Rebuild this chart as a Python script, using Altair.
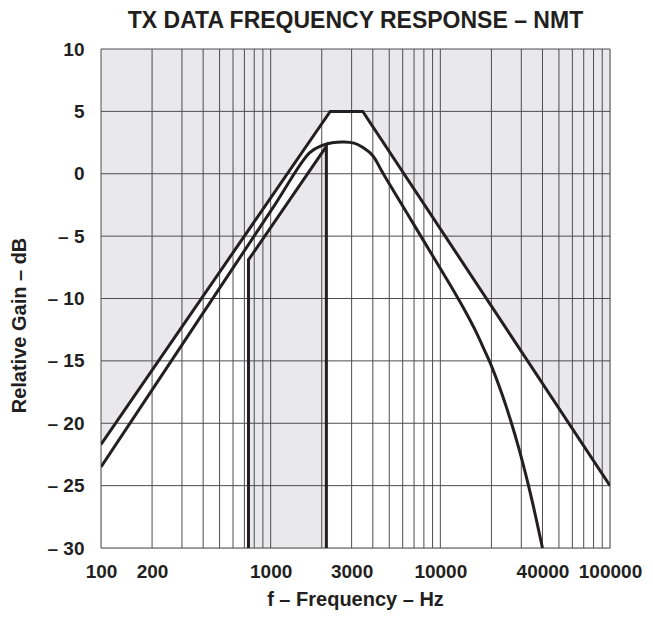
import altair as alt
import pandas as pd

# ---- data ----
upper_f = [100, 2244, 3490, 100000]
upper_db = [-21.7, 5.0, 5.0, -25.0]

lower_f = [740, 740, 2130, 2130]
lower_db = [-30.0, -6.9, 2.2, -30.0]

resp_f = [100, 1000, 1700, 2000, 2300, 2700, 3100, 3500, 4000, 4500,
          5000, 7000, 10000, 12000, 14000, 16000, 18000, 20000, 23000,
          26000, 29000, 32000, 35000, 38000, 40000]
resp_db = [-23.5, -3.0, 1.7, 2.25, 2.48, 2.55, 2.45, 2.1, 1.45, 0.25,
           -0.8, -4.1, -7.6, -9.4, -11.0, -12.5, -14.0, -15.4, -17.6,
           -19.8, -22.0, -24.2, -26.4, -28.6, -30.0]

x_grid = [100, 200, 300, 400, 500, 600, 700, 800, 900,
          1000, 2000, 3000, 4000, 5000, 6000, 7000, 8000, 9000,
          10000, 20000, 30000, 40000, 50000, 60000, 70000, 80000, 90000, 100000]
x_labels = [100, 200, 1000, 3000, 10000, 40000, 100000]
y_grid = [-30, -25, -20, -15, -10, -5, 0, 5, 10]

FONT = "Liberation Sans"
INK = "#231f20"
GRID = "#4d4d4d"
SHADE = "#e9e9ec"

up = pd.DataFrame({"f": upper_f, "db": upper_db, "i": range(len(upper_f))})
lo = pd.DataFrame({"f": lower_f, "db": lower_db, "i": range(len(lower_f))})
lo_fill = lo.iloc[1:3]
rs = pd.DataFrame({"f": resp_f, "db": resp_db})
xg = pd.DataFrame({"f": x_grid})
yg = pd.DataFrame({"db": y_grid})

xscale = alt.Scale(type="log", domain=[100, 100000], nice=False)
yscale = alt.Scale(domain=[-30, 10], nice=False, zero=False)

label_list = "[" + ",".join(str(v) for v in x_labels) + "]"

xaxis = alt.Axis(
    values=x_grid, grid=False, ticks=False, tickSize=0, domain=False,
    labelExpr=f"indexof({label_list}, datum.value) >= 0 ? datum.label : ''",
    format="d",
    labelFlush=False, labelOverlap=False, labelPadding=14,
    labelFont=FONT, labelFontSize=19, labelFontWeight="bold", labelColor=INK,
    title="f – Frequency – Hz", titleFont=FONT, titleFontSize=20,
    titleFontWeight="bold", titleColor=INK, titleX=254, titleY=57,
    titleBaseline="alphabetic", titleAnchor="middle",
)
yaxis = alt.Axis(
    values=y_grid, grid=False, ticks=False, tickSize=0, domain=False,
    labelExpr="datum.value < 0 ? '– ' + abs(datum.value) : '' + datum.value",
    labelPadding=17, labelFont=FONT, labelFontSize=19, labelFontWeight="bold",
    labelColor=INK, labelOverlap=False, labelFlush=False,
    title="Relative Gain – dB", titleFont=FONT, titleFontSize=20,
    titleFontWeight="bold", titleColor=INK, titleX=-82, titleY=276,
    titleAngle=-90, titleBaseline="middle", titleAlign="center",
)

X = alt.X("f:Q", scale=xscale, axis=xaxis)
Y = alt.Y("db:Q", scale=yscale, axis=yaxis)

shade_up = alt.Chart(up).mark_area(color=SHADE, clip=True).encode(
    x=X, y=Y, y2=alt.datum(10))
shade_lo = alt.Chart(lo_fill).mark_area(color=SHADE, clip=True).encode(
    x=X, y=Y, y2=alt.datum(-30))

vgrid = alt.Chart(xg).mark_rule(color=GRID, strokeWidth=1).encode(x=X)
hgrid = alt.Chart(yg).mark_rule(color=GRID, strokeWidth=1).encode(y=Y)

upper_line = alt.Chart(up).mark_line(color=INK, strokeWidth=3, clip=True).encode(
    x=X, y=Y, order="i:Q")
lower_line = alt.Chart(lo).mark_line(color=INK, strokeWidth=3, clip=True).encode(
    x=X, y=Y, order="i:Q")
resp_line = alt.Chart(rs).mark_line(color=INK, strokeWidth=3, clip=True,
                                    interpolate="catmull-rom").encode(x=X, y=Y)

chart = alt.layer(
    shade_up, shade_lo, vgrid, hgrid, upper_line, lower_line, resp_line
).properties(
    width=509, height=499,
    title=alt.TitleParams(
        "TX DATA FREQUENCY RESPONSE – NMT", font=FONT, fontSize=23,
        fontWeight="bold", color=INK, anchor="middle", offset=7),
    autosize=alt.AutoSizeParams(type="none"),
    padding={"left": 93, "top": 41, "right": 35, "bottom": 66},
).configure_view(
    stroke=INK, strokeWidth=2.5
).configure(background="white")

chart.save("out.html", embed_options={"renderer": "svg", "actions": False})
